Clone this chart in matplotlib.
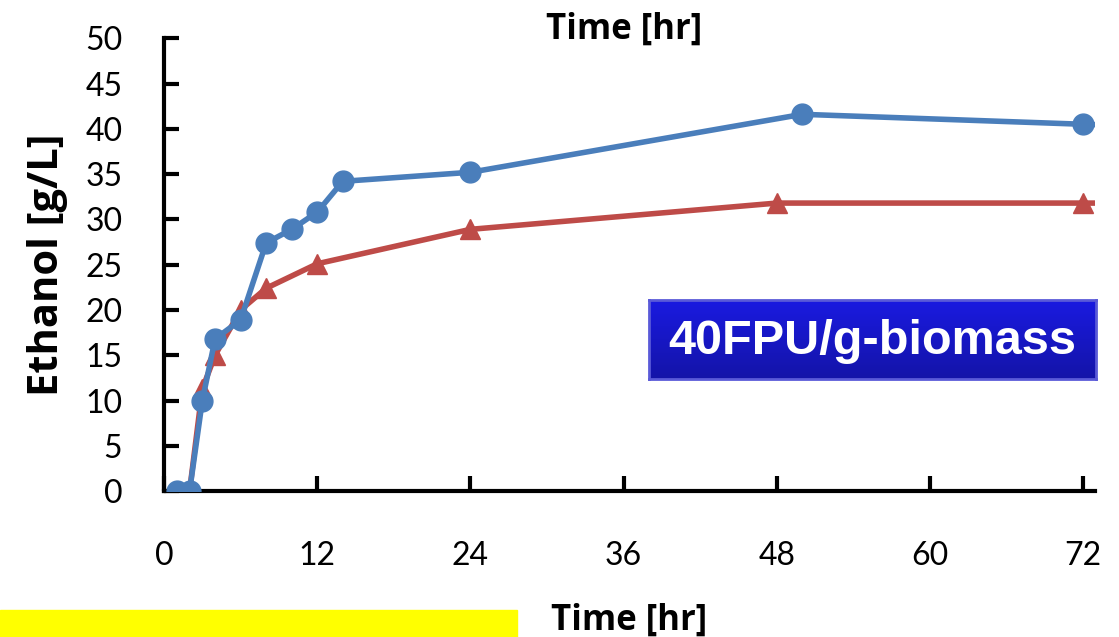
import numpy as np
import matplotlib.pyplot as plt
from matplotlib.patches import Rectangle
from matplotlib.colors import LinearSegmentedColormap


# Ethanol production over time
time_blue = [1, 2, 3, 4, 6, 8, 10, 12, 14, 24, 50, 72, 96]
ethanol_blue = [0, 0, 10.0, 16.8, 18.9, 27.4, 28.9, 30.8, 34.2, 35.2, 41.6, 40.5, 39.5]

time_red = [1, 2, 3, 4, 6, 8, 12, 24, 48, 72, 96]
ethanol_red = [0, 0, 11.3, 15.0, 20.0, 22.4, 25.1, 28.9, 31.8, 31.8, 31.8]

x_ticks = [0, 12, 24, 36, 48, 60, 72]
y_ticks = [0, 5, 10, 15, 20, 25, 30, 35, 40, 45, 50]

BLUE = "#4a7ebb"
RED = "#be4b48"


def main():

    fig = plt.figure(figsize=(11.19, 6.37), dpi=100)

    ax = fig.add_axes([0.1466, 0.229, 0.8316, 0.711])

    ax.plot(
        time_red, ethanol_red,
        color=RED, lw=4, marker="^", ms=14,
        clip_on=True, zorder=3
    )

    ax.plot(
        time_blue, ethanol_blue,
        color=BLUE, lw=4, marker="o", ms=15,
        clip_on=True, zorder=4
    )

    ax.set_xlim(0, 72.9)
    ax.set_ylim(0, 50)

    ax.set_xticks(x_ticks)
    ax.set_yticks(y_ticks)

    for side in ["top", "right"]:
        ax.spines[side].set_visible(False)
    for side in ["left", "bottom"]:
        ax.spines[side].set_linewidth(3)

    ax.tick_params(
        direction="in", length=11, width=3,
        labelsize=23
    )
    ax.tick_params(axis="x", pad=36)
    ax.tick_params(axis="y", pad=30)

    for label in ax.get_xticklabels() + ax.get_yticklabels():
        label.set_family("Lato")

    ax.set_ylabel(
        "Ethanol [g/L]", fontsize=30, fontweight="bold",
        family="Open Sans", labelpad=12
    )

    # duplicated axis title at the top and the real one at the bottom
    fig.text(
        0.558, 0.953, "Time [hr]", fontsize=25, fontweight="bold",
        family="Open Sans", ha="center", va="center"
    )
    fig.text(
        0.562, 0.025, "Time [hr]", fontsize=25, fontweight="bold",
        family="Open Sans", ha="center", va="center"
    )

    # yellow strip at the bottom left
    fig.patches.append(Rectangle(
        (0, 0), 517 / 1119, 27 / 637,
        transform=fig.transFigure, color="#ffff00", zorder=0
    ))

    # label box with blue gradient
    box = [649 / 1119, 1 - 379 / 637, 447 / 1119, 79 / 637]
    box_ax = fig.add_axes(box)
    grad = np.linspace(0, 1, 100).reshape(-1, 1)
    box_ax.imshow(
        grad, aspect="auto", extent=[0, 1, 0, 1],
        cmap=LinearSegmentedColormap.from_list(
            "b", ["#1a1ae0", "#1414a8"]
        )
    )
    box_ax.set_xticks([])
    box_ax.set_yticks([])
    for s in box_ax.spines.values():
        s.set_color("#5a5ad8")
        s.set_linewidth(2)
    box_ax.text(
        0.5, 0.48, "40FPU/g-biomass", color="white",
        fontsize=35, fontweight="bold", family="Liberation Sans",
        ha="center", va="center", transform=box_ax.transAxes
    )

    fig.savefig("out.png", dpi=100)
    plt.close(fig)


if __name__ == "__main__":
    main()
